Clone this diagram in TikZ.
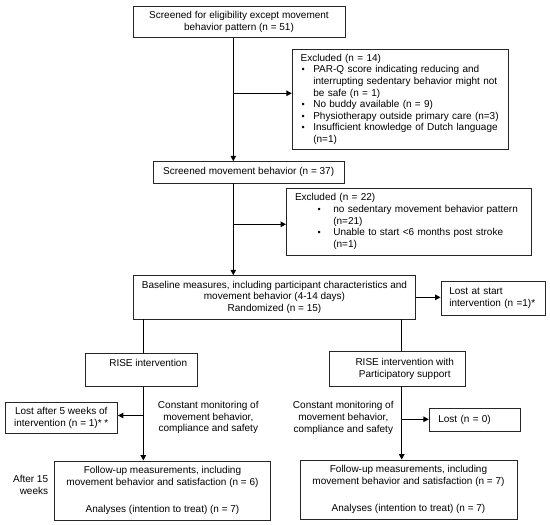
\documentclass[tikz,border=0pt]{standalone}
\usepackage{fontspec}
\setmainfont{Liberation Sans}
\usetikzlibrary{arrows.meta}
\newcommand\mybul[2]{\makebox[#1][l]{\hspace{#2}\raisebox{0.2pt}{\fontsize{9}{9}\selectfont •}}}
\begin{document}
\begin{tikzpicture}[x=1pt,y=-1pt,
  font=\fontsize{10}{11.6}\selectfont,
  box/.style={draw=black!85,line width=0.9pt,inner sep=0pt,align=center},
  conn/.style={line width=1.2pt},
  arr/.style={conn,-{Triangle[length=5.5pt,width=5.5pt]}},
  plain/.style={inner sep=0pt,align=center}]
\useasboundingbox[fill=white] (0,0) rectangle (550,525);

% top
\node[box,minimum width=212pt,minimum height=31.5pt] (b1) at (239,21.75)
  {Screened for eligibility except movement\\behavior pattern (n = 51)};
\node[box,minimum width=216pt,minimum height=100.5pt,text width=199.2pt,align=left] (e1) at (400.3,99.25)
  {Excluded (n = 14)\\
   \mybul{12.6pt}{1pt}PAR-Q score indicating reducing and\\
   \hspace*{12.6pt}interrupting sedentary behavior might not\\
   \hspace*{12.6pt}be safe (n = 1)\\
   \mybul{12.6pt}{1pt}No buddy available (n = 9)\\
   \mybul{12.6pt}{1pt}Physiotherapy outside primary care (n=3)\\
   \mybul{12.6pt}{1pt}Insufficient knowledge of Dutch language\\
   \hspace*{12.6pt}(n=1)};
\node[box,minimum width=190.7pt,minimum height=21.3pt] (b2) at (248.65,172.35)
  {Screened movement behavior (n = 37)};
\node[box,minimum width=244.5pt,minimum height=67pt,text width=227.5pt,align=left] (e2) at (408.75,221.5)
  {Excluded (n = 22)\\
   \mybul{38.3pt}{22.5pt}no sedentary movement behavior pattern\\
   \hspace*{38.3pt}(n=21)\\
   \mybul{38.3pt}{22.5pt}Unable to start <6 months post stroke\\
   \hspace*{38.3pt}(n=1)};
\node[box,minimum width=282.4pt,minimum height=43.3pt] (b3) at (274.5,297.35)
  {Baseline measures, including participant characteristics and\\movement behavior (4-14 days)\\Randomized (n = 15)};
\node[box,minimum width=104.7pt,minimum height=33.3pt,text width=88pt,align=left] (lost1) at (493.35,298.35)
  {Lost at start\\intervention (n =1)*};

% arms
\node[box,minimum width=112pt,minimum height=33.2pt,text height=7.2pt,text depth=13.8pt] (rise1) at (141.7,370.1)
  {\hspace*{13pt}RISE intervention};
\node[box,minimum width=136.4pt,minimum height=34.5pt] (rise2) at (397.5,368.75)
  {\hspace*{14.4pt}RISE intervention with\\\hspace*{14.4pt}Participatory support};
\node[box,minimum width=112.5pt,minimum height=31.3pt] (lost2) at (61.25,417.65)
  {Lost after 5 weeks of\\intervention (n = 1)* *};
\node[box,minimum width=90.7pt,minimum height=22.6pt,text width=72.7pt,align=left] (lost3) at (474.65,420)
  {Lost (n = 0)};
\node[plain] (mon1) at (208.3,417.7) {Constant monitoring of\\movement behavior,\\compliance and safety};
\node[plain] (mon2) at (343.3,418) {Constant monitoring of\\movement behavior,\\compliance and safety};
\node[box,minimum width=216.4pt,minimum height=59pt] (fu1) at (162.5,490.5)
  {Follow-up measurements, including\\movement behavior and satisfaction (n = 6)\\[15.1pt]Analyses (intention to treat) (n = 7)};
\node[box,minimum width=217pt,minimum height=59pt] (fu2) at (408.5,489.5)
  {Follow-up measurements, including\\movement behavior and satisfaction (n = 7)\\[15.1pt]Analyses (intention to treat) (n = 7)};
\node[plain,align=right,anchor=east] (after) at (48.3,485) {After 15\\weeks};

% connectors
\coordinate (cm) at (233.3,0);
\coordinate (cl) at (143.3,0);
\coordinate (cr) at (401.7,0);
\coordinate (j1) at (233.3,93.3);
\coordinate (j2) at (233.3,224.3);
\coordinate (j3) at (143.3,415.5);
\coordinate (j4) at (401.7,419.3);

\draw[arr] (b1.south -| cm) -- (b2.north -| cm);
\draw[arr] (j1) -- (j1 -| e1.west);
\draw[arr] (b2.south -| cm) -- (b3.north -| cm);
\draw[arr] (j2) -- (j2 -| e2.west);
\draw[arr] (b3.east) -- (b3.east -| lost1.west);
\draw[conn] (b3.south -| cl) -- (rise1.north -| cl);
\draw[conn] (b3.south -| cr) -- (rise2.north -| cr);
\draw[arr] (rise1.south -| cl) -- (fu1.north -| cl);
\draw[arr] (j3) -- (j3 -| lost2.east);
\draw[arr] (rise2.south -| cr) -- (fu2.north -| cr);
\draw[arr] (j4) -- (j4 -| lost3.west);
\end{tikzpicture}
\end{document}
